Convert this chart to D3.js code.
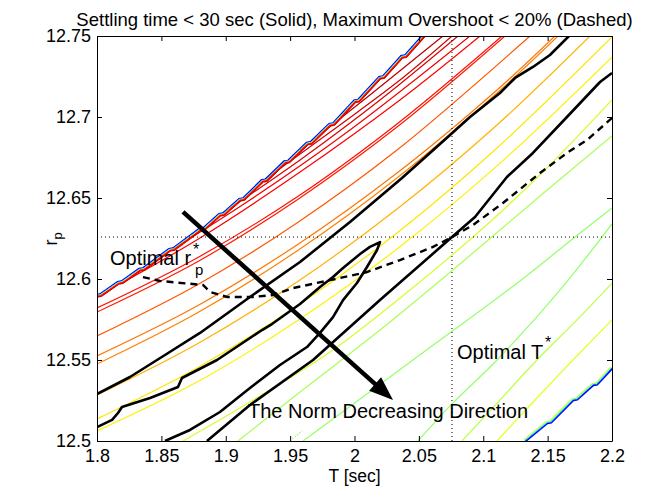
<!DOCTYPE html>
<html>
<head>
<meta charset="utf-8">
<script src="https://cdn.jsdelivr.net/npm/d3@7"></script>
<style>
body{margin:0;background:#fff;}
svg{color:#000;}
text{font-family:"Liberation Sans",Arial,Helvetica,sans-serif;fill:#000;}
</style>
</head>
<body>
<svg id="chart" width="650" height="487"></svg>
<script>
// axes
var xTicks = [1.8,1.85,1.9,1.95,2,2.05,2.1,2.15,2.2]
var yTicks = [12.5,12.55,12.6,12.65,12.7,12.75]
var optT = 2.0757, optR = 12.6259

// multicoloured boundary contours (bunched levels, stair-stepped)
var edgeUpper = [[1.8,12.5895],[1.803,12.5899],[1.8167,12.5975],[1.8197,12.5979],[1.8334,12.6056],[1.8364,12.606],
  [1.8567,12.6179],[1.8597,12.6183],[1.88,12.6302],[1.883,12.6306],[1.8955,12.6395],[1.8985,12.6399],
  [1.9111,12.6488],[1.9141,12.6492],[1.9286,12.6604],[1.9316,12.6608],[1.9461,12.672],[1.9491,12.6724],
  [1.9635,12.6835],[1.9665,12.6839],[1.981,12.6951],[1.984,12.6955],[2.0004,12.7096],[2.0034,12.71],
  [2.0198,12.7241],[2.0228,12.7245],[2.0369,12.737],[2.0399,12.7374],[2.054,12.75]]
var edgeLower = [[2.1324,12.5],[2.1495,12.5111],[2.1525,12.5115],[2.1697,12.5253],[2.1727,12.5257],[2.1852,12.5346],[2.1882,12.535],[2.2,12.5451]]

// norm contours, [T, r] points
var red1 = [[1.9577,12.6796],[2.012,12.7136],[2.0687,12.75]]
var red2 = [[1.9266,12.6593],[1.9887,12.6951],[2.0353,12.7228],[2.0757,12.75]]
var red3 = [[1.8955,12.6395],[1.9577,12.6735],[2.0198,12.7105],[2.0804,12.75]]
var red4 = [[1.8489,12.6136],[1.9188,12.6488],[1.9965,12.692],[2.0897,12.75]]
var red5 = [[1.8179,12.5969],[1.88,12.6253],[1.9577,12.666],[2.0353,12.7105],[2.0975,12.75]]
var redA = [[1.8,12.5821],[1.8777,12.613],[1.9553,12.6506],[2.033,12.6957],[2.1146,12.75]]
var redB = [[1.8,12.5796],[1.8777,12.6105],[1.9553,12.6488],[2.033,12.6938],[2.1169,12.75]]
var orange1 = [[1.8,12.5648],[1.8777,12.5963],[1.9553,12.6346],[2.033,12.6796],[2.1363,12.75]]
var orangeC = [[1.8,12.5525],[1.8777,12.5833],[1.9553,12.621],[2.033,12.6654],[2.1107,12.7167],[2.1557,12.75]]
var orangeD = [[1.8,12.5475],[1.8777,12.579],[1.9553,12.6173],[2.033,12.6623],[2.1107,12.7148],[2.1581,12.75]]
var amberE = [[1.8,12.5284],[1.8777,12.5599],[1.9553,12.5981],[2.033,12.6432],[2.1107,12.6951],[2.1829,12.75]]
var yellowF = [[1.8,12.5136],[1.8777,12.5451],[1.9553,12.5833],[2.033,12.6284],[2.1107,12.6809],[2.2,12.7494]]
var yellowG = [[1.8,12.5062],[1.8777,12.5364],[1.9553,12.5741],[2.033,12.6185],[2.1107,12.6698],[2.2,12.737]]
var limeH = [[1.8668,12.5],[1.9188,12.5241],[1.981,12.5549],[2.0431,12.5932],[2.1052,12.6352],[2.1518,12.6704],[2.2,12.7105]]
var greenI = [[1.9095,12.5],[1.9577,12.5302],[2.0198,12.5685],[2.0819,12.6093],[2.1441,12.6512],[2.2,12.6883]]
var greenJ = [[1.96,12.5],[2.0454,12.55],[2.1285,12.5988],[2.1674,12.6235],[2.2,12.6438]]
var greenK = [[2.0493,12.5],[2.0765,12.5235],[2.1107,12.55],[2.1596,12.5932],[2.2,12.634]]
var limeL = [[2.0835,12.5],[2.113,12.5253],[2.1417,12.55],[2.1713,12.5735],[2.2,12.5975]]
var yellowM = [[2.1107,12.5],[2.1402,12.5253],[2.1697,12.55],[2.2,12.5747]]
var greenBit = [[1.9499,12.5],[1.9592,12.5062]]

var normLines = [
  {pts: red1, level: 0.95}, {pts: red2, level: 0.92}, {pts: red3, level: 0.91},
  {pts: red4, level: 0.89}, {pts: red5, level: 0.88}, {pts: redA, level: 0.86},
  {pts: redB, level: 0.85}, {pts: orange1, level: 0.79}, {pts: orangeC, level: 0.76},
  {pts: orangeD, level: 0.75}, {pts: amberE, level: 0.7}, {pts: yellowF, level: 0.65},
  {pts: yellowG, level: 0.64}, {pts: limeH, level: 0.58}, {pts: greenI, level: 0.54},
  {pts: greenJ, level: 0.52}, {pts: greenK, level: 0.52}, {pts: limeL, level: 0.56},
  {pts: yellowM, level: 0.6}
]

// settling time = 30 s contours
var settleA = [[1.8,12.529],[1.8256,12.5395],[1.8528,12.5531],[1.88,12.5667],[1.9188,12.5889],[1.9577,12.6105],[1.9965,12.6352],[2.0369,12.6623],[2.0742,12.6889],[2.0897,12.7],[2.113,12.7148],[2.1247,12.7241],[2.1386,12.7309],[2.1518,12.7383],[2.1666,12.75]]
var settleB = [[1.8,12.5086],[1.8117,12.513],[1.8163,12.5173],[1.8194,12.521],[1.8412,12.5265],[1.8629,12.5333],[1.866,12.5389],[1.8932,12.55],[1.9282,12.5685],[1.9359,12.5722],[1.9577,12.5846],[1.9732,12.5951],[1.9833,12.6012],[1.9911,12.6068],[2.0043,12.6154],[2.012,12.6198],[2.0198,12.6228],[2.0175,12.6179],[2.0097,12.6074],[2.0019,12.5975],[1.9911,12.587],[1.9833,12.5765],[1.9732,12.5667],[1.9631,12.558],[1.9421,12.5469],[1.9188,12.5327],[1.8955,12.5179],[1.8722,12.5068],[1.8528,12.5]]
var settleC = [[1.8854,12.5],[1.9188,12.5222],[1.9678,12.55],[2.0198,12.587],[2.0757,12.6259],[2.0936,12.6383],[2.1184,12.663],[2.1386,12.6778],[2.165,12.7],[2.1907,12.7216],[2.2,12.7272]]

// max overshoot = 20% contour
var overshoot = [[1.8357,12.6012],[1.8489,12.5988],[1.8823,12.5963],[1.8878,12.592],[1.901,12.5889],[1.9212,12.5889],[1.9367,12.5901],[1.9522,12.5944],[1.9887,12.6006],[2.0097,12.6043],[2.0353,12.6117],[2.061,12.6198],[2.0757,12.6259],[2.092,12.6333],[2.1153,12.6469],[2.1441,12.6654],[2.165,12.6778],[2.1806,12.6858],[2.2,12.6994]]

// arrow start / tip
var arrowFrom = [1.8668,12.6414], arrowTo = [2.0299,12.5253]

var svg = d3.select('#chart')
var x = d3.scaleLinear().domain([1.8,2.2]).range([97,612])
var y = d3.scaleLinear().domain([12.5,12.75]).range([441,36])
var jet = d3.scaleLinear()
  .domain([0,0.125,0.375,0.625,0.875,1])
  .range(['#000080','#0000ff','#00ffff','#ffff00','#ff0000','#800000'])
var line = d3.line().x(d => x(d[0])).y(d => y(d[1]))
var smooth = d3.line().x(d => x(d[0])).y(d => y(d[1])).curve(d3.curveCatmullRom)

svg.append('clipPath').attr('id','plotclip').append('rect')
  .attr('x', x(1.8)).attr('y', y(12.75))
  .attr('width', x(2.2)-x(1.8)).attr('height', y(12.5)-y(12.75))

var plot = svg.append('g').attr('clip-path','url(#plotclip)')

// coloured norm contours
plot.selectAll('.norm').data(normLines).enter().append('path')
  .attr('class','norm')
  .attr('d', d => smooth(d.pts))
  .attr('fill','none')
  .attr('stroke', d => jet(d.level))
  .attr('stroke-width', 1.2)

plot.append('path').attr('d', line(greenBit)).attr('fill','none')
  .attr('stroke', jet(0.52)).attr('stroke-width',1.2).attr('stroke-dasharray','1.5,1.5')

// bunched edges drawn as stacked strokes (offset across the line)
var upperStack = [['#0000ff',-1.8,1.3],['#00e0ff',-1.0,1],['#ffff00',-0.3,1],['#ff0000',0.5,1.6],['#d00000',1.3,1]]
upperStack.forEach(function(s){
  plot.append('path').attr('d', line(edgeUpper)).attr('fill','none')
    .attr('stroke', s[0]).attr('stroke-width',s[2])
    .attr('transform','translate(' + (s[1]*0.6) + ',' + (s[1]*0.8) + ')')
})
var lowerStack = [['#c0ff40',-1.6,1.2],['#60ff90',-0.8,1],['#00b0ff',0,1],['#0000ff',0.8,1.4]]
lowerStack.forEach(function(s){
  plot.append('path').attr('d', line(edgeLower)).attr('fill','none')
    .attr('stroke', s[0]).attr('stroke-width',s[2])
    .attr('transform','translate(' + (s[1]*0.7) + ',' + (s[1]*0.7) + ')')
})

// settling time contours
;[settleA, settleB, settleC].forEach(function(c){
  plot.append('path').attr('d', line(c)).attr('fill','none')
    .attr('stroke','#000').attr('stroke-width',2.6).attr('stroke-linejoin','round')
})

// overshoot contour
plot.append('path').attr('d', line(overshoot)).attr('fill','none')
  .attr('stroke','#000').attr('stroke-width',2.4).attr('stroke-dasharray','7,5')

// optimum cross-hair
plot.append('line').attr('x1', x(1.8)).attr('x2', x(2.2)).attr('y1', y(optR)).attr('y2', y(optR))
  .attr('stroke','#000').attr('stroke-width',1).attr('stroke-dasharray','1,3')
plot.append('line').attr('x1', x(optT)).attr('x2', x(optT)).attr('y1', y(12.5)).attr('y2', y(12.75))
  .attr('stroke','#000').attr('stroke-width',1).attr('stroke-dasharray','1,3')

// arrow
var ax0 = x(arrowFrom[0]), ay0 = y(arrowFrom[1]), ax1 = x(arrowTo[0]), ay1 = y(arrowTo[1])
var len = Math.hypot(ax1-ax0, ay1-ay0), ux = (ax1-ax0)/len, uy = (ay1-ay0)/len
var headL = 24, headW = 9
var bx = ax1 - ux*headL, by = ay1 - uy*headL
svg.append('line').attr('x1',ax0).attr('y1',ay0).attr('x2',bx+ux*2).attr('y2',by+uy*2)
  .attr('stroke','#000').attr('stroke-width',4.5)
svg.append('path')
  .attr('d','M'+ax1+','+ay1+'L'+(bx-uy*headW)+','+(by+ux*headW)+'L'+(bx+uy*headW)+','+(by-ux*headW)+'Z')
  .attr('fill','#000')

// axes
var fmt = d => String(+d.toFixed(2))
var gB = svg.append('g').attr('transform','translate(0,'+y(12.5)+')')
  .call(d3.axisBottom(x).tickValues(xTicks).tickSize(-5).tickSizeOuter(0).tickPadding(8).tickFormat(fmt))
var gT = svg.append('g').attr('transform','translate(0,'+y(12.75)+')')
  .call(d3.axisTop(x).tickValues(xTicks).tickSize(-5).tickSizeOuter(0).tickFormat(''))
var gL = svg.append('g').attr('transform','translate('+x(1.8)+',0)')
  .call(d3.axisLeft(y).tickValues(yTicks).tickSize(-5).tickSizeOuter(0).tickPadding(6).tickFormat(fmt))
var gR = svg.append('g').attr('transform','translate('+x(2.2)+',0)')
  .call(d3.axisRight(y).tickValues(yTicks).tickSize(-5).tickSizeOuter(0).tickFormat(''))
;[gB,gT,gL,gR].forEach(function(g){
  g.selectAll('text').style('font-size','18px').attr('fill','#000')
  g.select('.domain').attr('stroke-width',1)
})

// labels
svg.append('text').attr('x', (x(1.8)+x(2.2))/2).attr('y', 26).attr('text-anchor','middle')
  .style('font-size','18.5px')
  .text('Settling time < 30 sec (Solid), Maximum Overshoot < 20% (Dashed)')
svg.append('text').attr('x', (x(1.8)+x(2.2))/2).attr('y', 482).attr('text-anchor','middle')
  .style('font-size','17.5px').text('T [sec]')
var yl = svg.append('text').attr('transform','translate(57,239) rotate(-90)').attr('text-anchor','middle')
  .style('font-size','18px')
yl.append('tspan').text('r')
yl.append('tspan').attr('dy',5).style('font-size','13px').text('p')

svg.append('text').attr('x',110).attr('y',265).style('font-size','20px').text('Optimal r')
svg.append('text').attr('x',193).attr('y',255).style('font-size','16px').text('*')
svg.append('text').attr('x',195).attr('y',275).style('font-size','15px').text('p')
svg.append('text').attr('x',457).attr('y',359).style('font-size','20px').text('Optimal T')
svg.append('text').attr('x',545).attr('y',348).style('font-size','16px').text('*')
svg.append('text').attr('x',248).attr('y',418).style('font-size','20px').text('The Norm Decreasing Direction')
</script>
</body>
</html>
